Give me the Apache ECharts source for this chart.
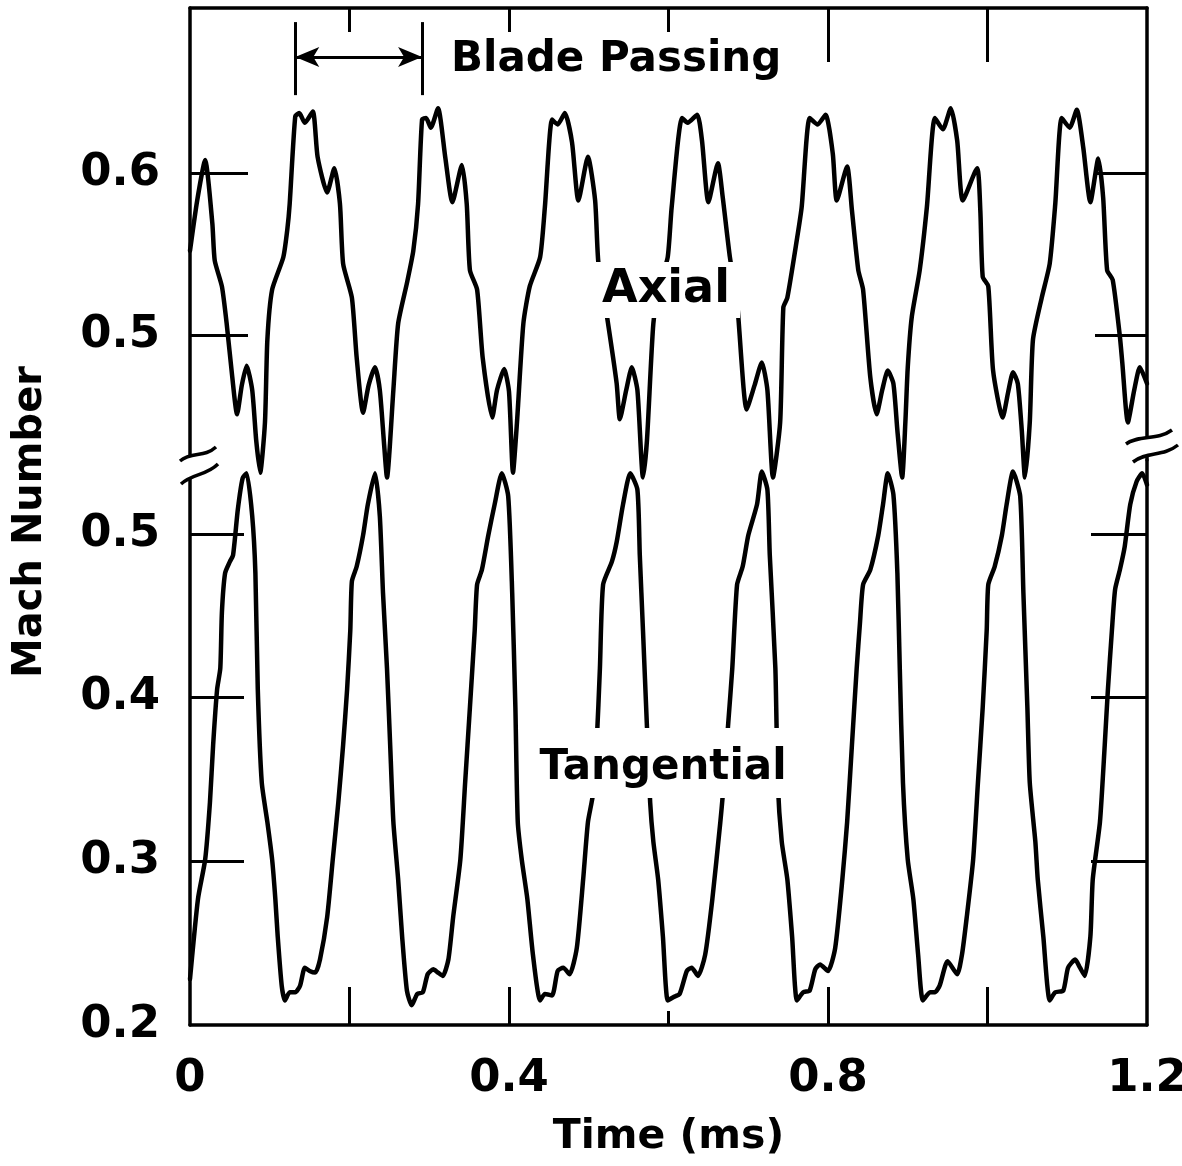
<!DOCTYPE html>
<html><head><meta charset="utf-8">
<script src="https://cdn.jsdelivr.net/npm/echarts@6/dist/echarts.min.js"></script>
<style>html,body{margin:0;padding:0;background:#fff}#c{width:1182px;height:1166px}</style>
</head><body><div id="c"></div>
<script>
// ---- data ----
const axialTime = [0,0.009,0.019,0.028,0.031,0.040,0.046,0.053,0.059,0.065,0.071,0.078,0.083,0.088,0.094,0.097,0.103,0.117,0.122,0.125,
 0.132,0.137,0.144,0.154,0.160,0.172,0.181,0.188,0.192,0.203,0.209,0.217,0.224,0.232,0.238,0.243,0.247,0.255,0.261,0.272,0.280,0.286,
 0.291,0.296,0.302,0.311,0.320,0.329,0.341,0.347,0.351,0.360,0.367,0.379,0.385,0.394,0.400,0.405,0.410,0.418,0.426,0.439,0.445,
 0.454,0.461,0.470,0.479,0.487,0.499,0.508,0.512,0.523,0.535,0.539,0.547,0.554,0.561,0.568,0.573,0.581,0.589,0.599,0.604,
 0.617,0.624,0.636,0.642,0.650,0.662,0.668,0.677,0.686,0.698,0.708,0.717,0.724,0.731,0.740,0.744,0.749,0.761,0.767,
 0.777,0.787,0.797,0.806,0.811,0.824,0.830,0.838,0.844,0.853,0.861,0.868,0.875,0.882,0.887,0.893,0.897,0.900,0.905,0.915,0.924,
 0.934,0.944,0.954,0.962,0.969,0.987,0.991,0.994,1.001,1.007,1.019,1.026,1.032,1.038,1.043,1.047,1.053,1.057,1.068,1.078,1.085,
 1.093,1.103,1.112,1.120,1.129,1.139,1.145,1.150,1.157,1.166,1.169,1.176,1.184,1.191,1.200];
const axialMach = [0.552,0.583,0.608,0.569,0.546,0.530,0.507,0.474,0.451,0.469,0.481,0.466,0.435,0.415,0.446,0.497,0.528,0.548,0.565,0.581,
 0.635,0.637,0.631,0.638,0.610,0.588,0.603,0.581,0.544,0.523,0.486,0.452,0.469,0.480,0.466,0.435,0.412,0.466,0.507,0.532,0.552,0.581,
 0.633,0.634,0.628,0.640,0.610,0.582,0.605,0.581,0.540,0.528,0.486,0.449,0.466,0.479,0.465,0.415,0.446,0.507,0.530,0.548,0.579,
 0.633,0.630,0.637,0.619,0.583,0.610,0.583,0.545,0.511,0.470,0.448,0.466,0.480,0.466,0.412,0.435,0.507,0.531,0.548,0.579,
 0.634,0.631,0.636,0.620,0.582,0.606,0.585,0.548,0.520,0.454,0.469,0.483,0.466,0.412,0.446,0.517,0.523,0.559,0.579,
 0.634,0.630,0.636,0.612,0.583,0.604,0.577,0.540,0.528,0.474,0.451,0.466,0.478,0.470,0.441,0.412,0.446,0.480,0.511,0.540,0.579,
 0.634,0.627,0.640,0.620,0.583,0.603,0.577,0.536,0.530,0.478,0.449,0.465,0.477,0.470,0.441,0.412,0.446,0.497,0.523,0.544,0.581,
 0.634,0.628,0.639,0.616,0.582,0.609,0.585,0.540,0.534,0.499,0.483,0.446,0.466,0.480,0.470];
const tangTime = [0,0.010,0.019,0.025,0.029,0.034,0.038,0.040,0.044,0.050,0.054,0.060,0.066,0.071,
 0.078,0.082,0.085,0.090,0.097,0.103,0.107,0.110,0.115,0.119,0.125,0.132,0.138,0.144,0.150,0.157,0.163,0.172,0.179,0.186,0.192,0.197,0.201,0.203,0.209,0.217,0.223,0.232,
 0.238,0.242,0.247,0.251,0.255,0.261,0.266,0.272,0.278,0.285,0.292,0.298,0.305,0.311,0.317,0.324,0.330,0.339,0.345,0.351,0.357,0.360,0.366,0.374,0.382,0.391,
 0.399,0.404,0.408,0.411,0.416,0.423,0.430,0.439,0.445,0.454,0.461,0.468,0.476,0.485,0.493,0.499,0.505,0.510,0.514,0.518,0.529,0.535,0.543,0.552,
 0.561,0.564,0.568,0.573,0.577,0.581,0.587,0.593,0.599,0.606,0.614,0.623,0.629,0.637,0.646,0.655,0.665,0.668,0.675,0.680,0.686,0.693,0.700,0.711,0.717,
 0.724,0.727,0.734,0.737,0.742,0.749,0.755,0.761,0.769,0.777,0.784,0.790,0.800,0.809,0.818,0.824,0.830,0.836,0.840,0.844,0.853,0.863,0.869,0.875,
 0.882,0.887,0.890,0.894,0.900,0.907,0.913,0.919,0.928,0.934,0.940,0.950,0.962,0.968,0.974,0.982,0.988,0.994,0.999,1.001,1.009,1.018,1.024,1.032,
 1.041,1.045,1.050,1.053,1.060,1.063,1.070,1.078,1.085,1.095,1.101,1.110,1.116,1.122,1.129,1.132,1.141,1.147,1.151,1.156,1.160,1.166,1.172,1.179,1.187,1.194,1.200];
const tangMach = [0.228,0.277,0.301,0.336,0.371,0.405,0.418,0.452,0.476,0.483,0.487,0.515,0.534,0.537,
 0.511,0.476,0.405,0.348,0.324,0.301,0.277,0.254,0.224,0.215,0.220,0.220,0.224,0.235,0.233,0.232,0.240,0.266,0.301,0.336,0.371,0.405,0.441,0.471,0.480,0.499,0.518,0.537,
 0.511,0.464,0.418,0.371,0.324,0.289,0.254,0.221,0.212,0.219,0.220,0.231,0.234,0.232,0.230,0.240,0.266,0.301,0.348,0.394,0.441,0.469,0.478,0.499,0.518,0.537,
 0.523,0.464,0.394,0.324,0.301,0.277,0.243,0.215,0.219,0.218,0.233,0.235,0.231,0.247,0.289,0.324,0.340,0.373,0.418,0.469,0.483,0.495,0.518,0.537,
 0.527,0.487,0.441,0.382,0.336,0.312,0.289,0.254,0.215,0.217,0.219,0.233,0.235,0.230,0.243,0.277,0.324,0.340,0.385,0.418,0.469,0.480,0.499,0.518,0.538,
 0.527,0.487,0.418,0.348,0.312,0.289,0.254,0.215,0.220,0.221,0.234,0.237,0.233,0.247,0.289,0.324,0.371,0.418,0.445,0.469,0.478,0.499,0.518,0.537,
 0.524,0.476,0.418,0.348,0.301,0.277,0.243,0.215,0.220,0.220,0.224,0.239,0.231,0.243,0.266,0.301,0.348,0.394,0.441,0.469,0.480,0.499,0.518,0.538,
 0.523,0.464,0.394,0.348,0.312,0.289,0.254,0.215,0.220,0.221,0.235,0.240,0.235,0.230,0.254,0.289,0.324,0.371,0.405,0.441,0.466,0.478,0.492,0.518,0.532,0.537,0.530];

const xTicks = [0.2, 0.4, 0.6, 0.8, 1.0];
const xLabels = [0, 0.4, 0.8, 1.2];
const upperTicks = [0.5, 0.6];
const lowerTicks = [0.3, 0.4, 0.5];
const lowerLabels = [0.2, 0.3, 0.4, 0.5];
const bladePassing = [0.132, 0.291];     // ms, one blade passing period
const bladeArrowLevel = 0.6716;
const bladeBarSpan = [0.6932, 0.6481];
const upperRange = [0.4228, 0.7019];
const lowerRange = [0.2, 0.5451];

// ---- chart ----
const ink = '#000';
const FONT = '"DejaVu Sans", sans-serif';
const tickStyle = {color: ink, width: 3};
const lineAx = {show: true, onZero: false, lineStyle: {color: ink, width: 3.5}};
const noLine = {show: false};
const labelStyle = {color: ink, fontFamily: FONT, fontWeight: 'bold', fontSize: 45};
const curveStyle = {color: ink, width: 4.5, join: 'round', cap: 'round'};

const chart = echarts.init(document.getElementById('c'), null, {renderer: 'canvas'});

const option = {
  animation: false,
  backgroundColor: '#fff',
  grid: [
    {left: 190, right: 35, top: 8, height: 452, outerBoundsMode: 'none', containLabel: false},
    {left: 190, right: 35, top: 460, bottom: 141, outerBoundsMode: 'none', containLabel: false}
  ],
  xAxis: [
    {gridIndex: 0, type: 'value', position: 'top', min: 0, max: 1.2, axisLine: lineAx,
     axisTick: {show: true, inside: true, length: 24, customValues: xTicks.filter(v => v < 0.7), lineStyle: tickStyle},
     axisLabel: {show: false}, splitLine: {show: false}},
    {gridIndex: 0, type: 'value', position: 'top', min: 0, max: 1.2, axisLine: noLine,
     axisTick: {show: true, inside: true, length: 54, customValues: xTicks.filter(v => v > 0.7), lineStyle: tickStyle},
     axisLabel: {show: false}, splitLine: {show: false}},
    {gridIndex: 1, type: 'value', position: 'bottom', min: 0, max: 1.2, axisLine: lineAx,
     axisTick: {show: true, inside: true, length: 38, customValues: xTicks.filter(v => Math.abs(v - 0.6) > 1e-9), lineStyle: tickStyle},
     axisLabel: Object.assign({show: true, margin: 32, customValues: xLabels, hideOverlap: false}, labelStyle),
     name: 'Time (ms)', nameLocation: 'middle', nameGap: 92,
     nameTextStyle: {color: ink, fontFamily: FONT, fontWeight: 'bold', fontSize: 41},
     splitLine: {show: false}},
    {gridIndex: 1, type: 'value', position: 'bottom', min: 0, max: 1.2, axisLine: noLine,
     axisTick: {show: true, inside: true, length: 14, customValues: xTicks.filter(v => Math.abs(v - 0.6) < 1e-9), lineStyle: tickStyle},
     axisLabel: {show: false}, splitLine: {show: false}}
  ],
  yAxis: [
    {gridIndex: 0, type: 'value', position: 'left', min: upperRange[0], max: upperRange[1], axisLine: lineAx,
     axisTick: {show: true, inside: true, length: 58, customValues: upperTicks, lineStyle: tickStyle},
     axisLabel: Object.assign({show: true, margin: 30, customValues: upperTicks}, labelStyle),
     splitLine: {show: false}},
    {gridIndex: 0, type: 'value', position: 'right', min: upperRange[0], max: upperRange[1], axisLine: lineAx,
     axisTick: {show: true, inside: true, length: 52, customValues: upperTicks, lineStyle: tickStyle},
     axisLabel: {show: false}, splitLine: {show: false}},
    {gridIndex: 1, type: 'value', position: 'left', min: lowerRange[0], max: lowerRange[1], axisLine: lineAx,
     axisTick: {show: true, inside: true, length: 54, customValues: lowerTicks, lineStyle: tickStyle},
     axisLabel: Object.assign({show: true, margin: 30, customValues: lowerLabels}, labelStyle),
     splitLine: {show: false}},
    {gridIndex: 1, type: 'value', position: 'right', min: lowerRange[0], max: lowerRange[1], axisLine: lineAx,
     axisTick: {show: true, inside: true, length: 56, customValues: lowerTicks, lineStyle: tickStyle},
     axisLabel: {show: false}, splitLine: {show: false}}
  ],
  series: [
    {type: 'line', name: 'Axial', xAxisIndex: 0, yAxisIndex: 0, clip: false,
     symbol: 'none', showSymbol: false, smooth: 0.2,
     lineStyle: curveStyle,
     data: axialTime.map((t, i) => [t, axialMach[i]]),
     markLine: {
       silent: true, animation: false, label: {show: false},
       lineStyle: {color: ink, width: 3, type: 'solid'},
       symbol: ['arrow', 'arrow'], symbolSize: [15, 24],
       emphasis: {disabled: true},
       data: [
         [{coord: [bladePassing[0], bladeArrowLevel]}, {coord: [bladePassing[1], bladeArrowLevel]}],
         [{coord: [bladePassing[0], bladeBarSpan[0]], symbol: 'none'}, {coord: [bladePassing[0], bladeBarSpan[1]], symbol: 'none'}],
         [{coord: [bladePassing[1], bladeBarSpan[0]], symbol: 'none'}, {coord: [bladePassing[1], bladeBarSpan[1]], symbol: 'none'}]
       ]
     }},
    {type: 'line', name: 'Tangential', xAxisIndex: 2, yAxisIndex: 2, clip: false,
     symbol: 'none', showSymbol: false, smooth: 0.2,
     lineStyle: curveStyle,
     data: tangTime.map((t, i) => [t, tangMach[i]])}
  ],
  graphic: [
    // label backgrounds break the curves like in the original
    {type: 'rect', z: 100, shape: {x: 596, y: 262, width: 144, height: 56}, style: {fill: '#fff'}},
    {type: 'text', z: 101, x: 666, y: 290,
     style: {text: 'Axial', font: 'bold 46px ' + FONT, fill: ink, align: 'center', verticalAlign: 'middle', textAlign: 'center', textVerticalAlign: 'middle'}},
    {type: 'rect', z: 100, shape: {x: 536, y: 728, width: 256, height: 70}, style: {fill: '#fff'}},
    {type: 'text', z: 101, x: 663, y: 768,
     style: {text: 'Tangential', font: 'bold 42px ' + FONT, fill: ink, align: 'center', verticalAlign: 'middle', textAlign: 'center', textVerticalAlign: 'middle'}},
    {type: 'text', z: 101, x: 451, y: 60,
     style: {text: 'Blade Passing', font: 'bold 42px ' + FONT, fill: ink, align: 'left', verticalAlign: 'middle', textAlign: 'left', textVerticalAlign: 'middle'}},
    {type: 'text', z: 101, x: 31, y: 522, rotation: Math.PI / 2,
     style: {text: 'Mach Number', font: 'bold 40px ' + FONT, fill: ink, align: 'center', verticalAlign: 'middle', textAlign: 'center', textVerticalAlign: 'middle'}},
    // axis break marks
    {type: 'polygon', z: 100, shape: {points: [[180, 461], [216, 447], [218, 464], [181, 484]]}, style: {fill: '#fff'}},
    {type: 'bezierCurve', z: 101, shape: {x1: 180, y1: 461, cpx1: 192, cpy1: 451, cpx2: 204, cpy2: 458, x2: 216, y2: 447}, style: {stroke: ink, lineWidth: 3.5, fill: 'none'}},
    {type: 'bezierCurve', z: 101, shape: {x1: 181, y1: 484, cpx1: 193, cpy1: 473, cpx2: 206, cpy2: 476, x2: 218, y2: 464}, style: {stroke: ink, lineWidth: 3.5, fill: 'none'}},
    {type: 'polygon', z: 100, shape: {points: [[1126, 444], [1172, 430], [1178, 445], [1133, 462]]}, style: {fill: '#fff'}},
    {type: 'bezierCurve', z: 101, shape: {x1: 1126, y1: 444, cpx1: 1140, cpy1: 434, cpx2: 1157, cpy2: 441, x2: 1172, y2: 430}, style: {stroke: ink, lineWidth: 3.5, fill: 'none'}},
    {type: 'bezierCurve', z: 101, shape: {x1: 1133, y1: 462, cpx1: 1147, cpy1: 451, cpx2: 1163, cpy2: 457, x2: 1178, y2: 445}, style: {stroke: ink, lineWidth: 3.5, fill: 'none'}}
  ]
};
chart.setOption(option);
</script>
</body></html>
